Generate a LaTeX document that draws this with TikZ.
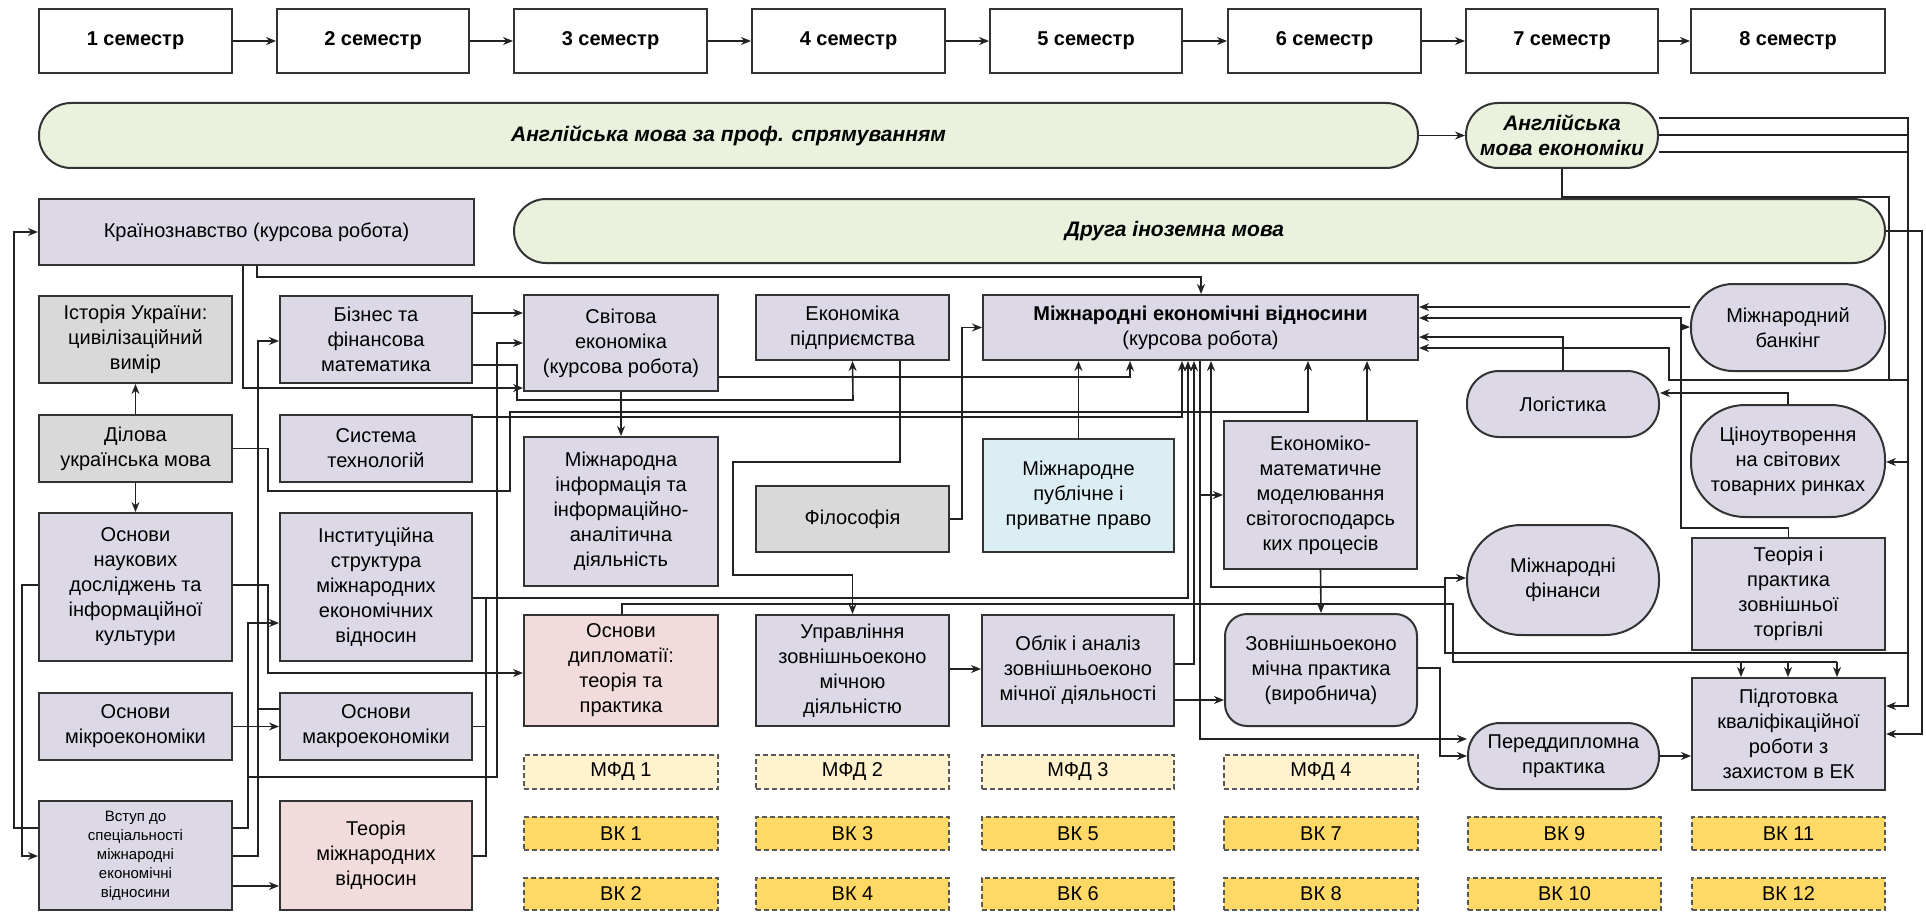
\documentclass[tikz,border=0pt]{standalone}
\usepackage{fontspec}
\setmainfont{Liberation Sans}
\usetikzlibrary{arrows.meta}
\definecolor{lav}{HTML}{DCD8E6}
\definecolor{gry}{HTML}{D9D9D9}
\definecolor{pnk}{HTML}{F2DCDB}
\definecolor{blu}{HTML}{DBEEF4}
\definecolor{grn}{HTML}{EAF1DD}
\definecolor{mfd}{HTML}{FFF2CC}
\definecolor{vk}{HTML}{FFD966}
\definecolor{edgec}{HTML}{333333}
\definecolor{wirec}{HTML}{222222}
\tikzset{
 box/.style={draw=edgec, line width=2pt, fill=lav, align=center, inner sep=1pt, text=black, font=\fontsize{20}{25}\selectfont},
 sem/.style={box, fill=white, font=\bfseries\fontsize{20}{24}\selectfont},
 graybox/.style={box, fill=gry},
 pinkbox/.style={box, fill=pnk},
 bluebox/.style={box, fill=blu},
 bar/.style={box, fill=grn, rounded corners=32pt, font=\bfseries\itshape\fontsize{21}{25}\selectfont},
 rbox/.style={box, rounded corners=#1},
 mfdbox/.style={box, fill=mfd, draw=gray!70!black, dash pattern=on 5pt off 3pt, line width=1.5pt},
 vkbox/.style={mfdbox, fill=vk},
 arr/.style={draw=wirec, line width=1.6pt, -{Stealth[length=10pt,width=8pt]}},
 wire/.style={draw=wirec, line width=1.6pt},
}
\newcommand\Bx[7]{\node[#6, minimum width=#4pt, minimum height=#5pt] (#1) at (#2,#3) {#7};}
\begin{document}
\begin{tikzpicture}[x=1pt,y=-1pt]
\fill[white] (0,0) rectangle (1926,912);
\useasboundingbox (0,0) rectangle (1926,912);
% semesters
\Bx{s1}{135.5}{41}{193}{64}{sem}{1 семестр}
\Bx{s2}{373}{41}{192}{64}{sem}{2 семестр}
\Bx{s3}{610.5}{41}{193}{64}{sem}{3 семестр}
\Bx{s4}{848.5}{41}{193}{64}{sem}{4 семестр}
\Bx{s5}{1086}{41}{192}{64}{sem}{5 семестр}
\Bx{s6}{1324.5}{41}{193}{64}{sem}{6 семестр}
\Bx{s7}{1562}{41}{192}{64}{sem}{7 семестр}
\Bx{s8}{1788}{41}{194}{64}{sem}{8 семестр}
\foreach \i/\j in {1/2,2/3,3/4,4/5,5/6,6/7,7/8} \draw[arr] (s\i.east) -- (s\j.west);
% bars
\Bx{eng}{728.5}{135.5}{1379}{65}{bar}{Англійська мова за проф. спрямуванням}
\Bx{engec}{1562}{135.5}{192}{65}{bar}{Англійська\\мова економіки}
\Bx{druha}{1199.5}{231}{1371}{64}{bar}{Друга іноземна мова\hspace*{50pt}}
% column 1
\Bx{kraina}{256.5}{232}{435}{66}{box}{Країнознавство (курсова робота)}
\Bx{istoria}{135.5}{339.5}{193}{87}{graybox}{Історія України:\\цивілізаційний\\вимір}
\Bx{dilova}{135.5}{448.5}{193}{67}{graybox}{Ділова\\українська мова}
\Bx{naukovi}{135.5}{587}{193}{148}{box}{Основи\\наукових\\досліджень та\\інформаційної\\культури}
\Bx{mikro}{135.5}{726.5}{193}{67}{box}{Основи\\мікроекономіки}
\Bx{vstup}{135.5}{855.5}{193}{109}{box, font=\fontsize{15}{19}\selectfont}{Вступ до\\спеціальності\\міжнародні\\економічні\\відносини}
% column 2
\Bx{biznes}{376}{339.5}{192}{87}{box}{Бізнес та\\фінансова\\математика}
\Bx{systema}{376}{448.5}{192}{67}{box}{Система\\технологій}
\Bx{instytuc}{376}{587}{192}{148}{box}{Інституційна\\структура\\міжнародних\\економічних\\відносин}
\Bx{makro}{376}{726.5}{192}{67}{box}{Основи\\макроекономіки}
\Bx{teoria}{376}{855.5}{192}{109}{pinkbox}{Теорія\\міжнародних\\відносин}
% column 3
\Bx{svitova}{621}{343}{194}{96}{box}{Світова\\економіка\\(курсова робота)}
\Bx{mizhinf}{621}{511.5}{194}{149}{box}{Міжнародна\\інформація та\\інформаційно-\\аналітична\\діяльність}
\Bx{dyplom}{621}{670.5}{194}{111}{pinkbox}{Основи\\дипломатії:\\теорія та\\практика}
% column 4
\Bx{ekpidpr}{852.5}{327.5}{193}{65}{box}{Економіка\\підприємства}
\Bx{filos}{852.5}{519}{193}{66}{graybox}{Філософія}
\Bx{upr}{852.5}{670.5}{193}{111}{box}{Управління\\зовнішньоеконо\\мічною\\діяльністю}
% column 5
\Bx{mev}{1200.5}{327.5}{435}{65}{box}{\textbf{Міжнародні економічні відносини}\\(курсова робота)}
\Bx{publ}{1078.5}{495.5}{191}{113}{bluebox}{Міжнародне\\публічне і\\приватне право}
\Bx{oblik}{1078}{670.5}{192}{111}{box}{Облік і аналіз\\зовнішньоеконо\\мічної діяльності}
% column 6
\Bx{ekmat}{1320.5}{495}{193}{148}{box}{Економіко-\\математичне\\моделювання\\світогосподарсь\\ких процесів}
\Bx{zovpr}{1321}{670}{192}{112}{rbox=22pt}{Зовнішньоеконо\\мічна практика\\(виробнича)}
% column 7
\Bx{logist}{1563}{404}{192}{66}{rbox=32pt}{Логістика}
\Bx{fin}{1563}{580}{192}{110}{rbox=54pt}{Міжнародні\\фінанси}
\Bx{peredd}{1563.5}{756}{191}{66}{rbox=32pt}{Переддипломна\\практика}
% column 8
\Bx{bank}{1788}{327.5}{194}{87}{rbox=42pt}{Міжнародний\\банкінг}
\Bx{cina}{1788}{461}{194}{112}{rbox=54pt}{Ціноутворення\\на світових\\товарних ринках}
\Bx{torg}{1788.5}{594}{193}{112}{box}{Теорія і\\практика\\зовнішньої\\торгівлі}
\Bx{pidg}{1788.5}{734}{193}{112}{box}{Підготовка\\кваліфікаційної\\роботи з\\захистом в ЕК}
% MFD and VK
\Bx{mfd1}{621}{772}{194}{34}{mfdbox}{МФД 1}
\Bx{mfd2}{852.5}{772}{193}{34}{mfdbox}{МФД 2}
\Bx{mfd3}{1078}{772}{192}{34}{mfdbox}{МФД 3}
\Bx{mfd4}{1321}{772}{194}{34}{mfdbox}{МФД 4}
\Bx{vk1}{621}{833.5}{194}{33}{vkbox}{ВК 1}
\Bx{vk3}{852.5}{833.5}{193}{33}{vkbox}{ВК 3}
\Bx{vk5}{1078}{833.5}{192}{33}{vkbox}{ВК 5}
\Bx{vk7}{1321}{833.5}{194}{33}{vkbox}{ВК 7}
\Bx{vk9}{1564.5}{833.5}{193}{33}{vkbox}{ВК 9}
\Bx{vk11}{1788.5}{833.5}{193}{33}{vkbox}{ВК 11}
\Bx{vk2}{621}{894}{194}{32}{vkbox}{ВК 2}
\Bx{vk4}{852.5}{894}{193}{32}{vkbox}{ВК 4}
\Bx{vk6}{1078}{894}{192}{32}{vkbox}{ВК 6}
\Bx{vk8}{1321}{894}{194}{32}{vkbox}{ВК 8}
\Bx{vk10}{1564.5}{894}{193}{32}{vkbox}{ВК 10}
\Bx{vk12}{1788.5}{894}{193}{32}{vkbox}{ВК 12}
% ---------- connectors ----------
\draw[arr] (eng.east) -- (engec.west);
% left side
\draw[arr] (vstup.west |- 0,828) -- (14,828) -- (14,232) -- (kraina.west);
\draw[arr] (naukovi.west |- 0,585) -- (22,585) -- (22,856) -- (vstup.west |- 0,856);
\draw[arr] (dilova.north) -- (istoria.south);
\draw[arr] (dilova.south) -- (naukovi.north);
\draw[arr] (mikro.east) -- (makro.west);
\draw[arr] (vstup.east |- 0,886) -- (teoria.west |- 0,886);
\draw[arr] (vstup.east |- 0,828) -- (248,828) -- (248,623) -- (instytuc.west |- 0,623);
\draw[arr] (248,777) -- (497,777) -- (497,343) -- (svitova.west |- 0,343);
\draw[arr] (vstup.east |- 0,856) -- (258,856) -- (258,341) -- (biznes.west |- 0,341);
\draw[wire] (makro.west |- 0,709) -- (258,709);
\draw[arr] (naukovi.east |- 0,585) -- (268,585) -- (268,673) -- (dyplom.west |- 0,673);
\draw[arr] (dilova.east) -- (268,448.5) -- (268,491) -- (510,491) -- (510,412) -- (1308,412) -- (mev.south -| 1308,0);
\draw[arr] (kraina.south -| 243,0) -- (243,388) -- (svitova.west |- 0,388);
\draw[arr] (kraina.south -| 257,0) -- (257,277) -- (1201,277) -- (mev.north -| 1201,0);
\draw[arr] (biznes.east |- 0,313) -- (svitova.west |- 0,313);
\draw[arr] (biznes.east |- 0,365) -- (517,365) -- (517,400) -- (853,400) -- (ekpidpr.south);
\draw[arr] (svitova.east |- 0,377) -- (1130,377) -- (mev.south -| 1130,0);
\draw[arr] (svitova.south) -- (mizhinf.north);
\draw[arr] (systema.east |- 0,417) -- (1182,417) -- (mev.south -| 1182,0);
% buses
\draw[wire] (teoria.east |- 0,856) -- (486,856) -- (486,598);
\draw[wire] (makro.east) -- (486,726.5);
\draw[arr] (instytuc.east |- 0,598) -- (1188,598) -- (mev.south -| 1188,0);
\draw[wire] (dyplom.north -| 622,0) -- (622,604) -- (1453,604) -- (1453,662) -- (1837,662);
\foreach \xx in {1741,1788,1837} \draw[arr] (\xx,662) -- (pidg.north -| \xx,0);
% middle
\draw[arr] (filos.east) -- (962,519) -- (962,327.5) -- (mev.west);
\draw[arr] (ekpidpr.south -| 900,0) -- (900,462) -- (733,462) -- (733,575) -- (852.5,575) -- (upr.north);
\draw[arr] (publ.north) -- (mev.south -| publ.north);
\draw[arr] (ekmat.north -| 1367,0) -- (mev.south -| 1367,0);
\draw[arr] (ekmat.south) -- (zovpr.north);
\draw[arr] (upr.east |- 0,669) -- (oblik.west |- 0,669);
\draw[arr] (oblik.east |- 0,700) -- (zovpr.west |- 0,700);
\draw[arr] (oblik.east |- 0,664) -- (1194,664) -- (mev.south -| 1194,0);
\draw[arr] (zovpr.east |- 0,668) -- (1440,668) -- (1440,756) -- (peredd.west);
\draw[arr] (mev.south -| 1200,0) -- (1200,739) -- (peredd.west |- 0,739);
\draw[arr] (1200,495) -- (ekmat.west |- 0,495);
\draw[arr] (1445,587) -- (1211,587) -- (mev.south -| 1211,0);
\draw[arr] (peredd.east) -- (pidg.west |- peredd.east);
% right side
\draw[arr] (bank.west |- 0,307) -- (mev.east |- 0,307);
\draw[arr] (torg.north) -- (torg.north |- 0,528) -- (1681,528) -- (1681,318) -- (mev.east |- 0,318);
\draw[arr] (1681,327) -- (bank.west |- 0,327);
\draw[arr] (logist.north) -- (logist.north |- 0,337) -- (mev.east |- 0,337);
\draw[arr] (engec.east |- 0,118) -- (1908,118) -- (1908,380) -- (1669,380) -- (1669,348) -- (mev.east |- 0,348);
\draw[arr] (engec.east |- 0,135) -- (1908,135) -- (1908,462) -- (cina.east |- 0,462);
\draw[arr] (engec.east |- 0,152) -- (1908,152) -- (1908,706) -- (pidg.east |- 0,706);
\draw[arr] (druha.east) -- (1922,231) -- (1922,734) -- (pidg.east |- 0,734);
\draw[wire] (engec.south) -- (1562,197) -- (1889,197) -- (1889,380);
\draw[arr] (cina.north) -- (cina.north |- 0,393) -- (logist.east |- 0,393);
\draw[arr] (1908,653) -- (1445,653) -- (1445,578) -- (fin.west |- 0,578);
\end{tikzpicture}
\end{document}
